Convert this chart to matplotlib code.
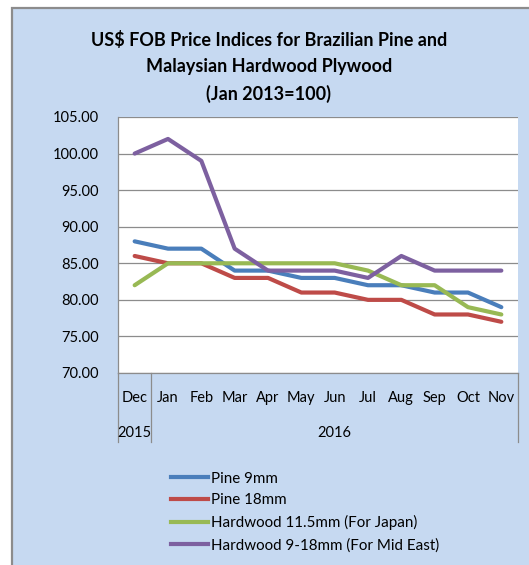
import matplotlib
matplotlib.use("Agg")
import matplotlib.pyplot as plt
from matplotlib.patches import Rectangle
from matplotlib.lines import Line2D
import matplotlib.transforms as mtrans

months = ["Dec", "Jan", "Feb", "Mar", "Apr", "May", "Jun", "Jul", "Aug", "Sep", "Oct", "Nov"]
years = ["2015", "2016"]
pine_9mm = [88, 87, 87, 84, 84, 83, 83, 82, 82, 81, 81, 79]
pine_18mm = [86, 85, 85, 83, 83, 81, 81, 80, 80, 78, 78, 77]
hardwood_115 = [82, 85, 85, 85, 85, 85, 85, 84, 82, 82, 79, 78]
hardwood_918 = [100, 102, 99, 87, 84, 84, 84, 83, 86, 84, 84, 84]
series_names = ["Pine 9mm", "Pine 18mm", "Hardwood 11.5mm (For Japan)", "Hardwood 9-18mm (For Mid East)"]
colors = ["#4A7EBB", "#BE4B48", "#98B954", "#7D60A0"]
yticks = [70, 75, 80, 85, 90, 95, 100, 105]

plt.rcParams['font.family'] = ['Lato', 'DejaVu Sans']

W, H = 529, 565
fig = plt.figure(figsize=(W / 100, H / 100), dpi=100)
fig.patch.set_facecolor("white")

panel = Rectangle((11.5 / W, -0.05), 1.2, 1 - 7.5 / H + 0.05, transform=fig.transFigure,
                  facecolor="#C6D9F1", edgecolor="#8C8C8C", lw=1.6, zorder=-5)
fig.patches.append(panel)

ax = fig.add_axes([118 / W, 1 - 373 / H, 400 / W, 256 / H])
ax.set_zorder(1)
ax.set_facecolor("white")
x = list(range(len(months)))
for vals, c, n in zip([pine_9mm, pine_18mm, hardwood_115, hardwood_918], colors, series_names):
    ax.plot(x, vals, color=c, lw=3.0, label=n, solid_joinstyle="round", solid_capstyle="round", zorder=3)

ax.set_xlim(-0.5, len(months) - 0.5)
ax.set_ylim(70, 105)
ax.set_yticks(yticks)
ax.set_yticklabels([f"{v:.2f}" for v in yticks], fontsize=10.5)
ax.tick_params(axis='y', length=0, pad=14)
ax.set_xticks([])
ax.grid(axis='y', color="#8C8C8C", lw=0.9, zorder=1)
for s in ["top", "right"]:
    ax.spines[s].set_visible(False)
ax.spines["left"].set_color("#8C8C8C")
ax.spines["left"].set_linewidth(0.9)
ax.spines["bottom"].set_color("#8C8C8C")
ax.spines["bottom"].set_linewidth(0.9)

# category axis box
trans = mtrans.blended_transform_factory(ax.transData, ax.transAxes)
box_h = (442 - 373) / 256
for xv in [-0.5, 0.5, len(months) - 0.5]:
    ax.add_line(Line2D([xv, xv], [0, -box_h], transform=trans, color="#8C8C8C", lw=0.9, clip_on=False))
for i, m in enumerate(months):
    ax.text(i, -(398 - 373) / 256, m, transform=trans, ha="center", va="center", fontsize=10.5)
ax.text(0, -(433 - 373) / 256, years[0], transform=trans, ha="center", va="center", fontsize=10.5)
ax.text((len(months) - 1 + 1) / 2, -(433 - 373) / 256, years[1], transform=trans, ha="center", va="center", fontsize=10.5)

fig.text(269 / W, 1 - 67 / H, "US$ FOB Price Indices for Brazilian Pine and\nMalaysian Hardwood Plywood\n(Jan 2013=100)",
         ha="center", va="center", fontsize=13, fontweight="bold", linespacing=1.62)

handles = [Line2D([], [], color=c, lw=3.0) for c in colors]
leg = fig.legend(handles, series_names, loc="upper left", bbox_to_anchor=(163 / W, 1 - 464 / H),
                 frameon=False, fontsize=10.9, handlelength=2.5, handletextpad=0.15,
                 labelspacing=0.52, borderpad=0)

fig.savefig("out.png", dpi=100, facecolor="white")
